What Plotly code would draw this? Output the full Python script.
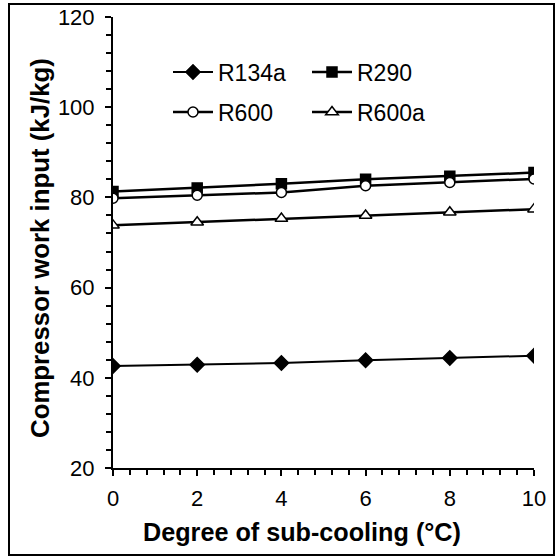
import plotly.graph_objects as go

x_vals = [0, 2, 4, 6, 8, 10]
r134a = [42.6, 42.9, 43.3, 43.9, 44.4, 44.9]
r290 = [81.3, 82.1, 83.0, 84.0, 84.7, 85.5]
r600 = [79.8, 80.5, 81.1, 82.6, 83.3, 84.1]
r600a = [73.8, 74.5, 75.3, 76.0, 76.7, 77.4]

x_title = "Degree of sub-cooling (°C)"
y_title = "Compressor work input (kJ/kg)"

FONT = "Liberation Sans, Arial, sans-serif"

fig = go.Figure()

series = [
    ("R134a", r134a, "diamond", 11, 2, "legend"),
    ("R290", r290, "square", 10, 2.5, "legend"),
    ("R600", r600, "circle-open", 10, 2.5, "legend2"),
    ("R600a", r600a, "triangle-up-open", 11, 2.5, "legend2"),
]
for name, ys, sym, size, lw, lg in series:
    open_ = "open" in sym
    fig.add_trace(go.Scatter(
        x=x_vals, y=ys, name=name, mode="lines+markers",
        line=dict(color="black", width=lw),
        marker=dict(symbol=sym.replace("-open", ""), size=size,
                    color="white" if open_ else "black",
                    line=dict(color="black", width=1.5)),
        legend=lg,
    ))

W, H = 559, 557
L, R, T, B = 113, 25, 17, 89
pw, ph = W - L - R, H - T - B

def px(xp):
    return (xp - L) / pw

def py(yp):
    return (H - B - yp) / ph

leg_common = dict(orientation="h", xanchor="left", yanchor="middle",
                  font=dict(size=23), bgcolor="rgba(0,0,0,0)",
                  entrywidth=84, entrywidthmode="pixels", itemwidth=40)

fig.update_layout(
    width=W, height=H,
    margin=dict(l=L, r=R, t=T, b=B, autoexpand=False),
    plot_bgcolor="white", paper_bgcolor="white",
    font=dict(family=FONT, color="black", size=22),
    showlegend=True,
    legend=dict(x=px(168), y=py(72), **leg_common),
    legend2=dict(x=px(168), y=py(112), **leg_common),
    shapes=[dict(type="rect", xref="paper", yref="paper",
                 x0=px(9), x1=px(554), y0=py(555), y1=py(4),
                 line=dict(color="black", width=2), layer="below")],
    annotations=[
        dict(text=x_title, xref="paper", yref="paper", x=px(302), y=py(532),
             xanchor="center", yanchor="middle", showarrow=False,
             font=dict(size=25.2, family=FONT, weight="bold")),
        dict(text=y_title, xref="paper", yref="paper", x=px(40), y=py(248),
             xanchor="center", yanchor="middle", showarrow=False, textangle=-90,
             font=dict(size=25.8, family=FONT, weight="bold")),
    ],
)

fig.update_xaxes(
    range=[0, 10], tickvals=[0, 2, 4, 6, 8, 10], showgrid=False, zeroline=False,
    showline=True, linecolor="black", linewidth=2,
    ticks="outside", ticklen=6, tickwidth=1.5, tickcolor="black",
    tickfont=dict(size=22), ticklabelstandoff=4,
    minor=dict(dtick=0.4, ticks="outside", ticklen=5, tickwidth=1.5, tickcolor="black", showgrid=False),
)
fig.update_yaxes(
    range=[20, 120], tickvals=[20, 40, 60, 80, 100, 120], showgrid=False, zeroline=False,
    showline=True, linecolor="black", linewidth=2,
    ticks="outside", ticklen=6, tickwidth=1.5, tickcolor="black",
    tickfont=dict(size=22), ticklabelstandoff=6,
    minor=dict(dtick=4, ticks="outside", ticklen=5, tickwidth=1.5, tickcolor="black", showgrid=False),
)

fig.write_html("out.html", config={"displayModeBar": False},
               post_script="document.body.style.margin='0px';")
